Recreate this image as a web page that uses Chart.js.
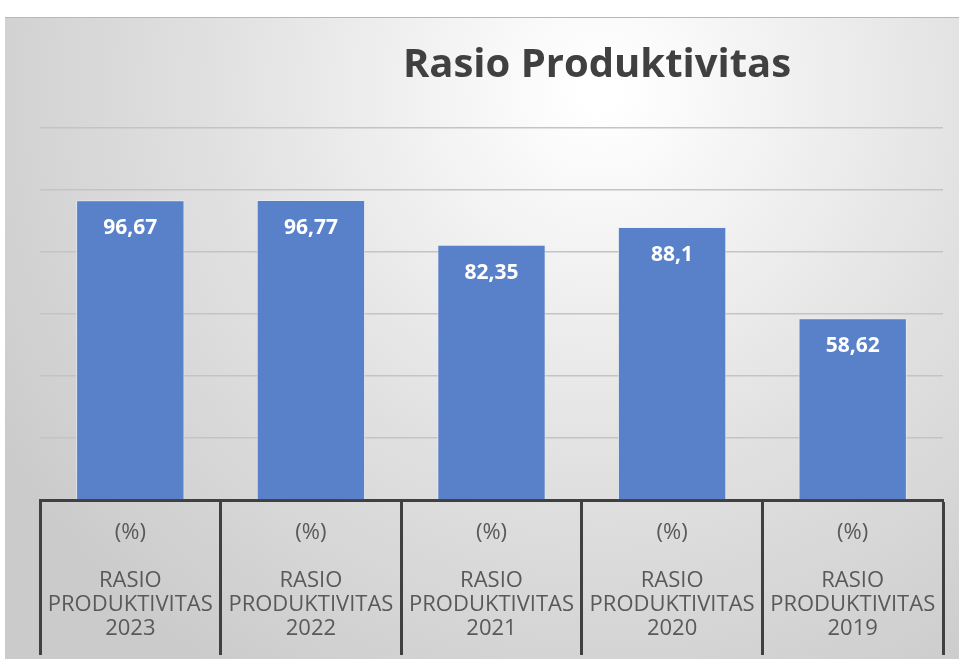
<!DOCTYPE html>
<html>
<head>
<meta charset="utf-8">
<script src="https://cdn.jsdelivr.net/npm/chart.js@4"></script>
<style>
  html, body { margin: 0; padding: 0; background: #fff; }
  #wrap { width: 959px; height: 659px; }
</style>
</head>
<body>
<div id="wrap"><canvas id="ratioChart" width="959" height="659"></canvas></div>
<script>
const years = ['2023', '2022', '2021', '2020', '2019'];
const ratioValues = [96.67, 96.77, 82.35, 88.1, 58.62];
const yTicks = [0, 20, 40, 60, 80, 100, 120];
const titleText = 'Rasio Produktivitas';

const FONT = '"Open Sans", "Liberation Sans", sans-serif';

// grey "chart area" background with a soft light spot near the title
const backgroundPlugin = {
    id: 'panelBackground',
    beforeDraw(chart) {
        const c = chart.ctx;
        const w = chart.width, h = chart.height;
        c.save();
        c.fillStyle = '#ffffff';
        c.fillRect(0, 0, w, h);
        const g = c.createRadialGradient(600, 90, 20, 600, 90, 700);
        g.addColorStop(0, '#ffffff');
        g.addColorStop(0.55, '#e0e0e0');
        g.addColorStop(1, '#cbcbcb');
        c.fillStyle = g;
        c.fillRect(5, 17, w - 5, h - 17);
        c.strokeStyle = '#b8b8b8';
        c.lineWidth = 1;
        c.beginPath();
        c.moveTo(5, 17.5);
        c.lineTo(w, 17.5);
        c.stroke();
        c.restore();
    }
};

// title + value labels
const textPlugin = {
    id: 'texts',
    afterDatasetsDraw(chart) {
        const c = chart.ctx;
        c.save();
        c.fillStyle = '#404040';
        c.font = 'bold 40px ' + FONT;
        c.textAlign = 'center';
        c.textBaseline = 'middle';
        c.fillText(titleText, 597, 66);

        c.fillStyle = '#ffffff';
        c.font = 'bold 21px ' + FONT;
        chart.getDatasetMeta(0).data.forEach((bar, i) => {
            c.fillText(String(ratioValues[i]).replace('.', ','), bar.x, bar.y + 28);
        });
        c.restore();
    }
};

new Chart(document.getElementById('ratioChart'), {
    type: 'bar',
    data: {
        labels: years.map(y => ['(%)', '', 'RASIO', 'PRODUKTIVITAS', y]),
        datasets: [{
            data: ratioValues,
            backgroundColor: '#5881c9',
            borderColor: 'rgba(230,238,250,0.7)',
            borderWidth: 1,
            categoryPercentage: 1,
            barPercentage: 0.6
        }]
    },
    options: {
        responsive: false,
        animation: false,
        layout: { padding: { top: 128, left: 40, right: 16, bottom: 0 } },
        plugins: {
            legend: { display: false },
            title: { display: false },
            tooltip: { enabled: false }
        },
        scales: {
            y: {
                min: 0,
                max: 120,
                afterBuildTicks(scale) {
                    scale.ticks = yTicks.map(v => ({ value: v }));
                },
                afterFit(scale) { scale.width = 0; },
                ticks: { display: false },
                border: { display: false },
                grid: { color: '#c4c4c4', lineWidth: 1.5, drawTicks: false }
            },
            x: {
                afterFit(scale) { scale.height = 159; },
                border: { display: true, color: '#404040', width: 3 },
                grid: {
                    offset: true,
                    drawOnChartArea: false,
                    drawTicks: true,
                    tickLength: 155,
                    tickWidth: 3,
                    tickColor: '#404040'
                },
                ticks: {
                    padding: -134,
                    color: '#595959',
                    maxRotation: 0,
                    autoSkip: false,
                    font: { family: FONT, size: 22, lineHeight: '24px' }
                }
            }
        }
    },
    plugins: [backgroundPlugin, textPlugin]
});
</script>
</body>
</html>
